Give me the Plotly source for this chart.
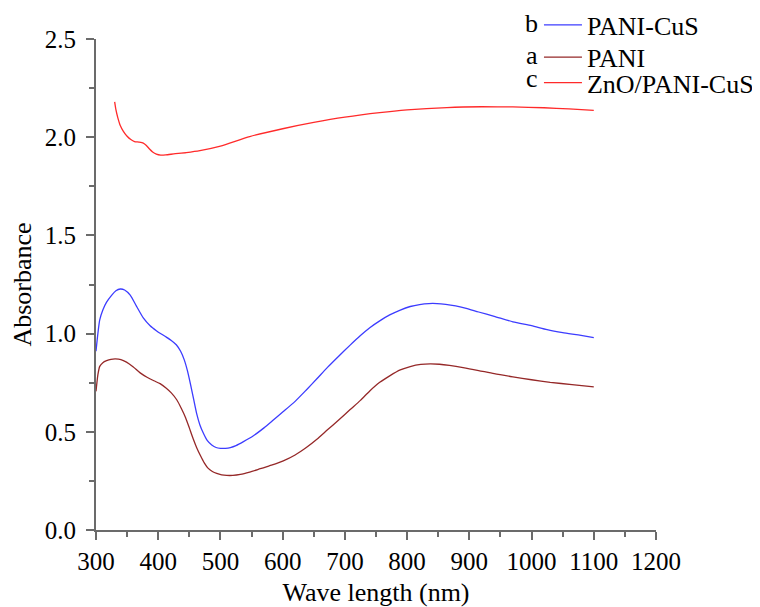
import plotly.graph_objects as go

# Data
x_pani_cus = [300, 303, 306, 311, 317, 325, 332, 339, 346, 355, 365, 376, 387, 397, 405, 413, 421, 429, 436, 442, 447, 452, 457, 462, 467, 473, 479, 486, 493, 500, 508, 516, 525, 537, 553, 570, 585, 601, 620, 638, 655, 672, 690, 708, 725, 740, 756, 772, 789, 805, 820, 835, 848, 862, 878, 895, 915, 940, 970, 1000, 1025, 1050, 1075, 1100]
y_pani_cus = [0.91, 1.00, 1.07, 1.12, 1.16, 1.195, 1.218, 1.227, 1.222, 1.196, 1.14, 1.08, 1.04, 1.015, 0.998, 0.982, 0.965, 0.943, 0.91, 0.865, 0.81, 0.74, 0.665, 0.59, 0.535, 0.49, 0.455, 0.433, 0.42, 0.416, 0.416, 0.42, 0.43, 0.45, 0.48, 0.52, 0.56, 0.603, 0.655, 0.713, 0.77, 0.828, 0.885, 0.94, 0.99, 1.03, 1.065, 1.095, 1.12, 1.138, 1.148, 1.153, 1.153, 1.149, 1.141, 1.129, 1.11, 1.088, 1.06, 1.04, 1.02, 1.005, 0.993, 0.98]

x_pani = [300, 303, 306, 311, 317, 324, 331, 340, 349, 360, 371, 382, 393, 403, 413, 421, 430, 437, 444, 450, 456, 462, 468, 474, 480, 487, 494, 502, 510, 520, 532, 547, 564, 582, 601, 620, 638, 655, 672, 690, 708, 725, 740, 756, 772, 789, 805, 822, 837, 852, 868, 890, 915, 940, 970, 1000, 1030, 1065, 1100]
y_pani = [0.706, 0.79, 0.833, 0.852, 0.862, 0.869, 0.871, 0.868, 0.855, 0.83, 0.80, 0.778, 0.76, 0.745, 0.722, 0.698, 0.662, 0.62, 0.572, 0.52, 0.466, 0.418, 0.378, 0.342, 0.315, 0.298, 0.288, 0.281, 0.278, 0.278, 0.283, 0.295, 0.312, 0.33, 0.352, 0.382, 0.42, 0.462, 0.51, 0.56, 0.612, 0.66, 0.708, 0.752, 0.785, 0.815, 0.832, 0.843, 0.846, 0.844, 0.838, 0.827, 0.812, 0.796, 0.78, 0.765, 0.752, 0.74, 0.729]

x_zno = [330, 332, 335, 339, 344, 350, 356, 362, 369, 376, 381, 386, 391, 397, 404, 412, 425, 445, 467, 500, 547, 600, 650, 700, 756, 800, 864, 920, 970, 1020, 1060, 1100]
y_zno = [2.18, 2.14, 2.1, 2.06, 2.03, 2.005, 1.988, 1.978, 1.975, 1.97, 1.958, 1.94, 1.925, 1.914, 1.909, 1.91, 1.915, 1.922, 1.932, 1.955, 2.003, 2.043, 2.075, 2.102, 2.125, 2.139, 2.151, 2.155, 2.154, 2.15, 2.144, 2.137]

series_names = ["PANI-CuS", "PANI", "ZnO/PANI-CuS"]
series_x = [x_pani_cus, x_pani, x_zno]
series_y = [y_pani_cus, y_pani, y_zno]
series_colors = ["#3c3cff", "#952828", "#ff2a2a"]
letters = ["b", "a", "c"]

x_ticks = [300, 400, 500, 600, 700, 800, 900, 1000, 1100, 1200]
y_ticks = [0.0, 0.5, 1.0, 1.5, 2.0, 2.5]

FONT = "Liberation Serif"
legend_ids = ["legend", "legend2", "legend3"]
legend_y = [1.0285, 0.9628, 0.911]
letter_y = [1.031, 0.966, 0.92]

fig = go.Figure()
for name, xs, ys, col, lid in zip(series_names, series_x, series_y, series_colors, legend_ids):
    fig.add_trace(go.Scatter(x=xs, y=ys, mode="lines", name=name, legend=lid,
                             line=dict(color=col, width=1.3, shape="spline", smoothing=0.6)))

axis_common = dict(showline=True, linecolor="#6b6b6b", linewidth=2, ticks="outside",
                   tickcolor="#6b6b6b", tickwidth=2, ticklen=8, showgrid=False, zeroline=False,
                   automargin=False,
                   tickfont=dict(family=FONT, size=25, color="black"),
                   title_font=dict(family=FONT, size=26, color="black"))

fig.update_xaxes(range=[300, 1200], tickvals=x_ticks, ticktext=[str(v) for v in x_ticks],
                 minor=dict(ticks="outside", dtick=50, ticklen=5, tickcolor="#6b6b6b", tickwidth=2),
                 title_text="Wave length (nm)", title_standoff=11, **axis_common)
fig.update_yaxes(range=[0, 2.5], tickvals=y_ticks, ticktext=[f"{v:.1f}" for v in y_ticks],
                 minor=dict(ticks="outside", dtick=0.25, ticklen=5, tickcolor="#6b6b6b", tickwidth=2),
                 ticklabelstandoff=5,
                 title_text="Absorbance", title_standoff=13, **axis_common)

legend_layout = {}
for lid, ly in zip(legend_ids, legend_y):
    legend_layout[lid] = dict(x=0.791, y=ly, xanchor="left", yanchor="middle",
                              font=dict(family=FONT, size=26, color="black"),
                              bgcolor="rgba(0,0,0,0)", borderwidth=0, itemwidth=38)

fig.update_layout(
    width=752, height=599,
    margin=dict(l=88, r=104, t=31, b=77, autoexpand=False),
    plot_bgcolor="white", paper_bgcolor="white",
    font=dict(family=FONT, color="black"),
    showlegend=True,
    **legend_layout,
)

for letter, ly in zip(letters, letter_y):
    fig.add_annotation(text=letter, xref="paper", yref="paper", x=0.793, y=ly,
                       xanchor="right", yanchor="middle", showarrow=False,
                       font=dict(family=FONT, size=26, color="black"))

fig.write_html("out.html")
